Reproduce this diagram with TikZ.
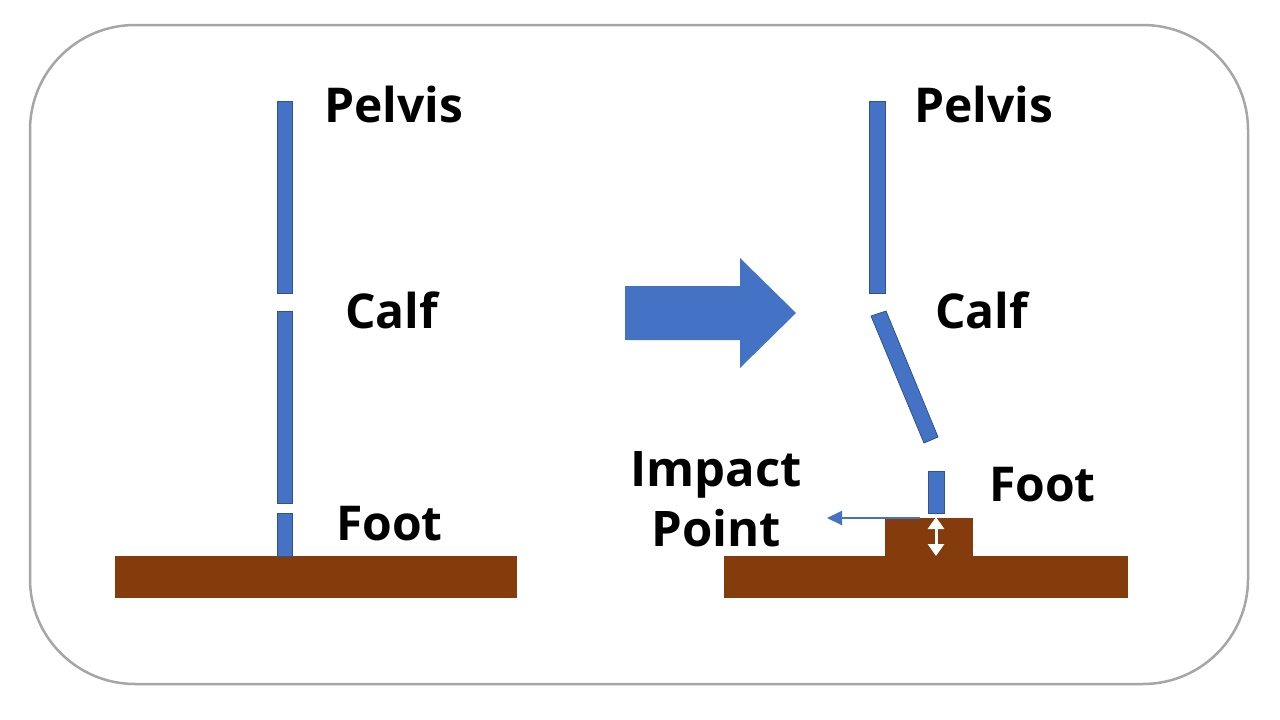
\documentclass[tikz,border=0pt]{standalone}
\usepackage{fontspec}
\setmainfont{Open Sans}
\usetikzlibrary{arrows.meta}
\definecolor{barblue}{HTML}{4472C4}
\definecolor{barline}{HTML}{2F528F}
\definecolor{ground}{HTML}{843C0C}
\definecolor{frame}{HTML}{A6A6A6}
\tikzset{
  bar/.style={fill=barblue, draw=barline, line width=0.8pt},
  groundbox/.style={fill=ground, draw=none},
  lbl/.style={anchor=base west, inner sep=0pt, font=\bfseries\fontsize{48}{56}\selectfont},
  clbl/.style={anchor=base, inner sep=0pt, font=\bfseries\fontsize{49}{56}\selectfont},
}
\begin{document}
\begin{tikzpicture}[x=1pt,y=-1pt]
\useasboundingbox (0,0) rectangle (1280,720);
% frame
\draw[frame, line width=2.5pt, rounded corners=105pt] (30,25) rectangle (1248,684);

% ---------- left figure ----------
\fill[groundbox] (115,556) rectangle (517,598);
\draw[bar] (277,101) rectangle (292,293);
\draw[bar] (277,311) rectangle (292,503);
\draw[bar] (277,513) rectangle (292,556);
\node[lbl] (pelvisL) at (324,122) {Pelvis};
\node[lbl] (calfL) at (345,328) {Calf};
\node[lbl] (footL) at (336,540) {Foot};

% ---------- big arrow ----------
\fill[barblue] (625,286) -- (740,286) -- (740,258) -- (796,313) -- (740,368) -- (740,340) -- (625,340) -- cycle;

% ---------- right figure ----------
\fill[groundbox] (724,556) rectangle (1128,598);
\fill[groundbox] (885,518) rectangle (973,557);
\draw[bar] (869,101) rectangle (885,293);
\draw[bar] (871,316) -- (886,311) -- (938,437) -- (924,443) -- cycle;
\draw[bar] (928,471) rectangle (944,513);
\coordinate (footbase) at (920,518);
\coordinate (impact) at (827,518);
\coordinate (ftop) at (936,517);
\coordinate (fbot) at (936,556);
\draw[barblue, line width=2pt, -{Triangle[length=15pt,width=14pt]}] (footbase) -- (impact);
\draw[white, line width=3pt, {Triangle[length=12pt,width=16pt]}-{Triangle[length=12pt,width=16pt]}] (ftop) -- (fbot);

\node[lbl] (pelvisR) at (914,122) {Pelvis};
\node[lbl] (calfR) at (935,328) {Calf};
\node[lbl] (footR) at (989,501) {Foot};
\node[clbl] (impactT) at (716,486) {Impact};
\node[clbl] (pointT) at (716,546) {Point};
\end{tikzpicture}
\end{document}
